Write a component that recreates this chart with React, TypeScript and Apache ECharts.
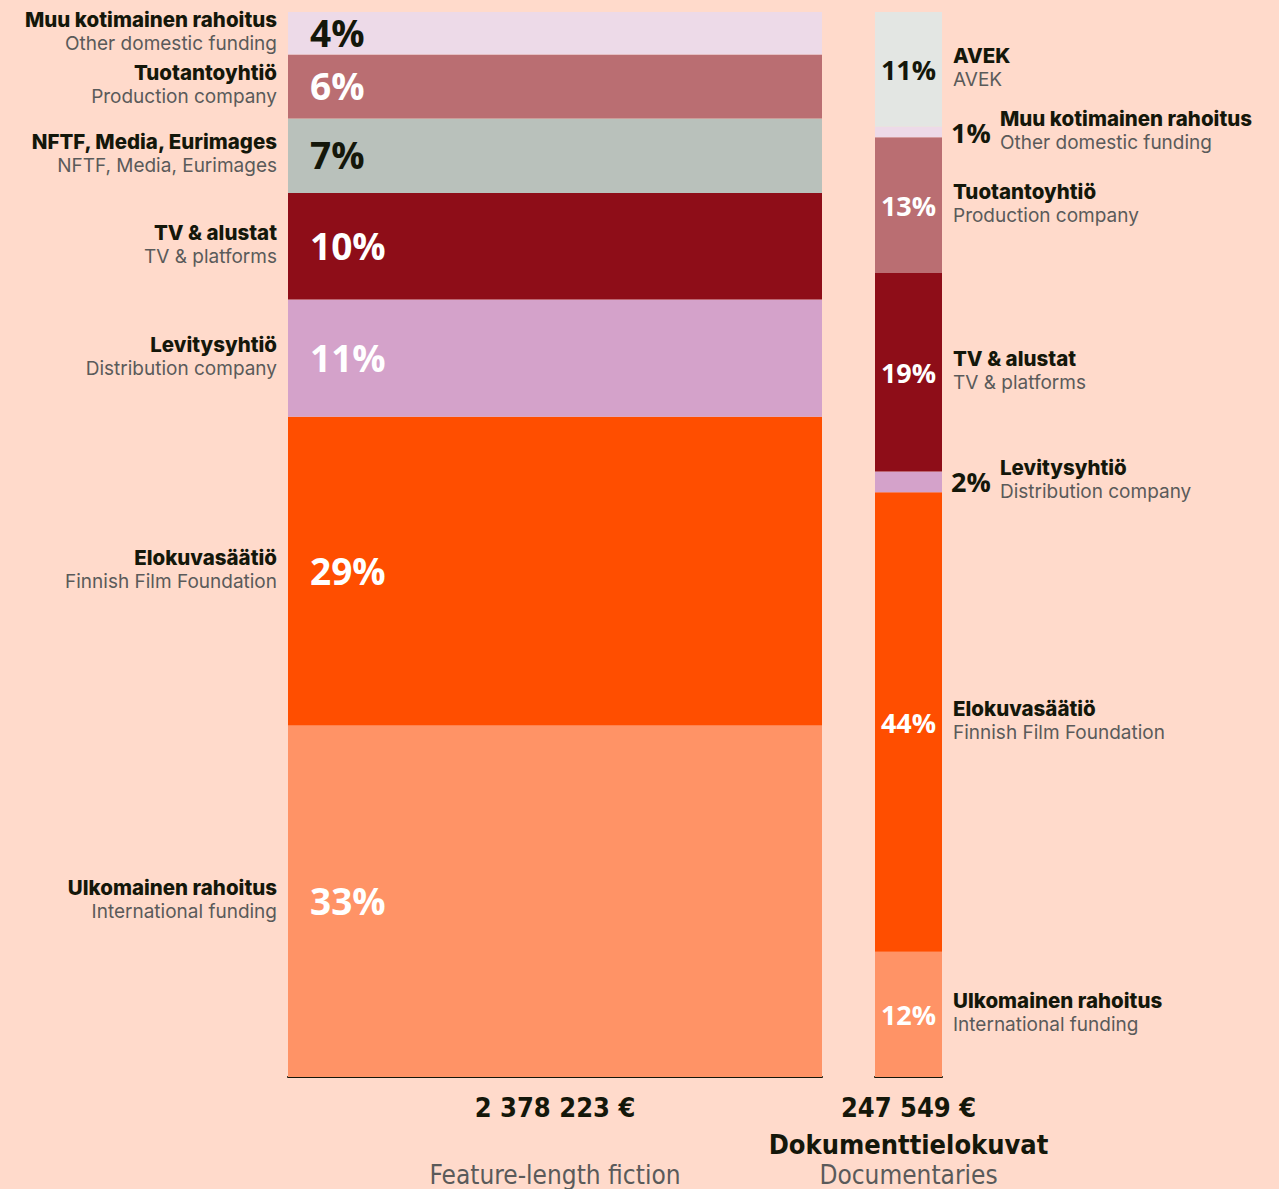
import React, { useEffect, useRef } from 'react';
import * as echarts from 'echarts';

// Funding sources (stacked bottom -> top)
const namesFi = [
  'Ulkomainen rahoitus',
  'Elokuvasäätiö',
  'Levitysyhtiö',
  'TV & alustat',
  'NFTF, Media, Eurimages',
  'Tuotantoyhtiö',
  'Muu kotimainen rahoitus',
  'AVEK',
];
const namesEn = [
  'International funding',
  'Finnish Film Foundation',
  'Distribution company',
  'TV & platforms',
  'NFTF, Media, Eurimages',
  'Production company',
  'Other domestic funding',
  'AVEK',
];
// Shares in percent
const fictionShares = [33, 29, 11, 10, 7, 6, 4, 0];
const docShares = [12, 44, 2, 19, 0, 13, 1, 11];

const groupKeys = ['fiction', 'doc'];
const groupTotals = ['2 378 223 €', '247 549 €'];
const groupTitlesFi = ['', 'Dokumenttielokuvat'];
const groupTitlesEn = ['Feature-length fiction', 'Documentaries'];

// Styles
const segColors = ['#FF9366', '#FF4E00', '#D4A2CA', '#8E0D18', '#B9C1BB', '#BA6E72', '#EDDAE8', '#E3E6E3'];
const lightSeg = [false, false, false, false, true, false, true, true];
const BG = '#FFDACB';
const DARK = '#14170A';
const GREY = '#5A5A5A';
const FONT = '"Open Sans", "Noto Sans", sans-serif';
const LFONT = 'Inter, "Open Sans", sans-serif';
const COND = '"Liberation Sans Narrow", "DejaVu Sans Condensed", "Open Sans", sans-serif';

const grids = [
  { left: 288, top: 12, width: 534, height: 1065 },
  { left: 875, top: 12, width: 67, height: 1065 },
];

export default function App() {
  const ref = useRef<HTMLDivElement>(null);
  useEffect(() => {
    document.body.style.margin = '0';
    document.body.style.overflow = 'hidden';
    document.body.style.background = BG;
    const chart = echarts.init(ref.current!, undefined, { renderer: 'svg' });
    const shareSets = [fictionShares, docShares];
    const series: any[] = [];
    shareSets.forEach((shares, g) => {
      shares.forEach((v, i) => {
        if (!v) return;
        const small = v < 3;
        const label: any =
          g === 0
            ? {
                show: true,
                position: [22, '50%'],
                align: 'left',
                verticalAlign: 'middle',
                formatter: '{c}%',
                fontFamily: FONT,
                fontWeight: 'bold',
                fontSize: 37,
                color: lightSeg[i] ? DARK : '#FFFFFF',
                offset: [0, -1],
              }
            : small
            ? {
                show: true,
                position: 'right',
                distance: 9,
                formatter: '{c}%',
                fontFamily: FONT,
                fontWeight: 'bold',
                fontSize: 27,
                color: DARK,
              }
            : {
                show: true,
                position: 'inside',
                formatter: '{c}%',
                fontFamily: FONT,
                fontWeight: 'bold',
                fontSize: 27,
                color: lightSeg[i] ? DARK : '#FFFFFF',
              };
        series.push({
          type: 'bar',
          name: namesFi[i],
          xAxisIndex: g,
          yAxisIndex: g,
          stack: groupKeys[g],
          barWidth: '100%',
          data: [v],
          itemStyle: { color: segColors[i] },
          label,
          emphasis: { disabled: true },
        });
      });
    });

    chart.setOption({
      animation: false,
      backgroundColor: BG,
      grid: grids.map((gr) => ({ ...gr })),
      xAxis: groupKeys.map((k, g) => ({
        type: 'category',
        gridIndex: g,
        data: [k],
        axisLine: { show: true, lineStyle: { color: DARK, width: 2 } },
        axisTick: { show: false },
        axisLabel: { show: false },
      })),
      yAxis: shareSets.map((s, g) => ({
        type: 'value',
        gridIndex: g,
        min: 0,
        max: s.reduce((a, b) => a + b, 0),
        show: false,
        splitLine: { show: false },
      })),
      series,
    });

    // Category labels beside the bars
    const graphic: any[] = [];
    shareSets.forEach((shares, g) => {
      let cum = 0;
      shares.forEach((v, i) => {
        if (!v) return;
        const mid = chart.convertToPixel({ yAxisIndex: g }, cum + v / 2) as number;
        cum += v;
        let x: number;
        let align: string;
        if (g === 0) {
          x = grids[0].left - 11;
          align = 'right';
        } else {
          x = grids[1].left + grids[1].width + (v < 3 ? 58 : 11);
          align = 'left';
        }
        graphic.push({
          type: 'text',
          x,
          y: mid - 2,
          style: {
            text: `{a|${namesFi[i]}}\n{b|${namesEn[i]}}`,
            align,
            verticalAlign: 'middle',
            rich: {
              a: { fontFamily: LFONT, fontWeight: 800, fontSize: 20.5, lineHeight: 24, fill: DARK, align },
              b: { fontFamily: LFONT, fontSize: 19, lineHeight: 24, fill: GREY, align },
            },
          },
        });
      });
    });
    // Totals and group titles
    grids.forEach((gr, g) => {
      const cx = gr.left + gr.width / 2;
      graphic.push({
        type: 'text',
        x: cx,
        y: 1107,
        style: { text: groupTotals[g], align: 'center', verticalAlign: 'middle', font: `bold 27px ${COND}`, fill: DARK },
      });
      if (groupTitlesFi[g]) {
        graphic.push({
          type: 'text',
          x: cx,
          y: 1144,
          style: { text: groupTitlesFi[g], align: 'center', verticalAlign: 'middle', font: `bold 27px ${COND}`, fill: DARK },
        });
      }
      graphic.push({
        type: 'text',
        x: cx,
        y: 1175,
        style: { text: groupTitlesEn[g], align: 'center', verticalAlign: 'middle', font: `26px ${COND}`, fill: GREY },
      });
    });
    chart.setOption({ graphic });

    return () => chart.dispose();
  }, []);
  return <div ref={ref} style={{ width: 1279, height: 1189 }} />;
}
